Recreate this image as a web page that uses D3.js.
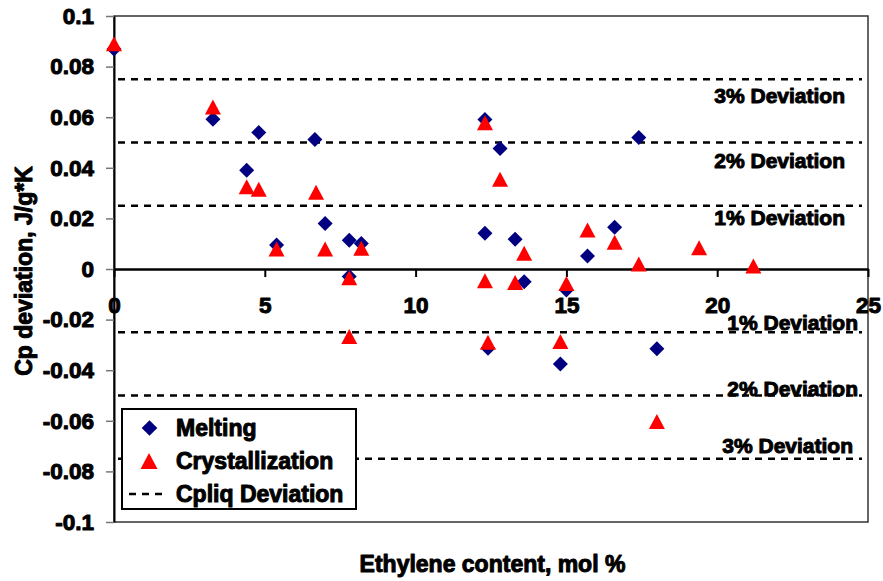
<!DOCTYPE html>
<html>
<head>
<meta charset="utf-8">
<script src="https://cdn.jsdelivr.net/npm/d3@7"></script>
<style>
  body { margin: 0; background: #fff; }
  svg { display: block; }
  text { font-family: "Liberation Sans", Arial, sans-serif; font-weight: 700; fill: #000;
         stroke: #000; stroke-width: 1px; stroke-linejoin: round; }
</style>
</head>
<body>
<svg id="chart" width="883" height="581"></svg>
<script>
// Ethylene content (mol %) vs. Cp deviation (J/g*K)
const melting = [
  [0.0, 0.0870], [3.28, 0.0592], [4.8, 0.0540], [4.4, 0.0390], [6.66, 0.0512],
  [7.0, 0.0180], [5.39, 0.0095], [7.8, 0.0114], [8.2, 0.0101], [7.8, -0.0030],
  [12.3, 0.0591], [12.8, 0.0476], [12.3, 0.0141], [13.3, 0.0118], [13.6, -0.0050],
  [15.0, -0.0083], [15.7, 0.0051], [16.6, 0.0165], [17.4, 0.0520], [18.0, -0.0315],
  [12.4, -0.0313], [14.8, -0.0375]
];
const crystallization = [
  [0.0, 0.0890], [3.28, 0.0640], [4.4, 0.0325], [4.8, 0.0315], [6.7, 0.0303],
  [7.0, 0.0079], [5.39, 0.0079], [8.2, 0.0082], [7.8, -0.0035], [7.8, -0.0267],
  [12.3, 0.0578], [12.8, 0.0355], [13.6, 0.0062], [12.3, -0.0046], [13.3, -0.0053],
  [15.0, -0.0057], [15.7, 0.0154], [16.6, 0.0106], [17.4, 0.0020], [19.4, 0.0084],
  [21.2, 0.0012], [12.4, -0.0290], [14.8, -0.0287], [18.0, -0.0603]
];
const deviationLevels = [0.075, 0.05, 0.025, -0.025, -0.05, -0.075];
const deviationLabels = ["3% Deviation", "2% Deviation", "1% Deviation",
                         "1% Deviation", "2% Deviation", "3% Deviation"];
const xTicks = [0, 5, 10, 15, 20, 25];
const yTicks = [0.1, 0.08, 0.06, 0.04, 0.02, 0, -0.02, -0.04, -0.06, -0.08, -0.1];
const yTickLabels = ["0.1", "0.08", "0.06", "0.04", "0.02", "0", "-0.02", "-0.04", "-0.06", "-0.08", "-0.1"];
const legendItems = ["Melting", "Crystallization", "Cpliq Deviation"];
const xTitle = "Ethylene content, mol %";
const yTitle = "Cp deviation, J/g*K";

const svg = d3.select("#chart");
const plot = { left: 114, right: 868, top: 16, bottom: 522 };

const x = d3.scaleLinear().domain([0, 25]).range([plot.left, plot.right]);
const y = d3.scaleLinear().domain([-0.1, 0.1]).range([plot.bottom, plot.top]);

// plot frame
svg.append("rect")
  .attr("x", plot.left).attr("y", plot.top)
  .attr("width", plot.right - plot.left).attr("height", plot.bottom - plot.top)
  .attr("fill", "#fff").attr("stroke", "#333").attr("stroke-width", 1.5);

// deviation bands
const dash = "7,6";
svg.append("g").selectAll("line").data(deviationLevels).join("line")
  .attr("x1", plot.left + 4).attr("x2", plot.right - 6)
  .attr("y1", d => y(d)).attr("y2", d => y(d))
  .attr("stroke", "#000").attr("stroke-width", 2.6)
  .attr("stroke-dasharray", dash);

// label placement: right edge and vertical offset from each band
const labelPlace = [
  { right: 845, dy: 16.5 }, { right: 845, dy: 17.8 }, { right: 845, dy: 11.8 },
  { right: 858, dy: -10.3 }, { right: 858, dy: -7.5 }, { right: 853, dy: -13.3 }
];
svg.append("g").selectAll("text").data(deviationLevels).join("text")
  .attr("x", (d, i) => labelPlace[i].right)
  .attr("y", (d, i) => y(d) + labelPlace[i].dy)
  .attr("dy", "0.36em")
  .attr("text-anchor", "end")
  .style("font-size", "21px")
  .text((d, i) => deviationLabels[i]);

// y axis
const yAxis = svg.append("g")
  .attr("transform", `translate(${plot.left},0)`)
  .call(d3.axisLeft(y).tickValues(yTicks)
    .tickFormat((d, i) => yTickLabels[i])
    .tickSize(8).tickSizeOuter(0).tickPadding(12));
yAxis.attr("font-family", null).attr("font-size", 22.5);
yAxis.select(".domain").attr("stroke", "#000").attr("stroke-width", 2);
yAxis.selectAll(".tick line").attr("stroke", "#777").attr("stroke-width", 1.5);
yAxis.selectAll(".tick text").style("font-size", "22.5px").attr("fill", "#000");

// x axis along zero
const xAxis = svg.append("g")
  .attr("transform", `translate(0,${y(0)})`)
  .call(d3.axisBottom(x).tickValues(xTicks).tickFormat(d3.format("d"))
    .tickSize(8).tickSizeOuter(0).tickPadding(20));
xAxis.attr("font-family", null).attr("font-size", 22.5);
xAxis.select(".domain").attr("stroke", "#000").attr("stroke-width", 2.6);
xAxis.selectAll(".tick line").attr("stroke", "#000").attr("stroke-width", 2);
xAxis.selectAll(".tick text").style("font-size", "22.5px").attr("fill", "#000");

// markers
const diamondPath = s => `M0,${-s}L${s},0L0,${s}L${-s},0Z`;
const trianglePath = (w, h) => `M0,${-h / 2}L${w / 2},${h / 2}L${-w / 2},${h / 2}Z`;

svg.append("g").selectAll("path").data(melting).join("path")
  .attr("d", diamondPath(7.5))
  .attr("transform", d => `translate(${x(d[0])},${y(d[1])})`)
  .attr("fill", "#000080");

svg.append("g").selectAll("path").data(crystallization).join("path")
  .attr("d", trianglePath(16, 15))
  .attr("transform", d => `translate(${x(d[0])},${y(d[1])})`)
  .attr("fill", "#ff0000");

// legend
const lg = svg.append("g");
lg.append("rect").attr("x", 122).attr("y", 409).attr("width", 234).attr("height", 100)
  .attr("fill", "#fff").attr("stroke", "#000").attr("stroke-width", 2);
const rowY = [428, 461, 494];
lg.append("path").attr("d", diamondPath(7.8))
  .attr("transform", `translate(149.5,${rowY[0]})`).attr("fill", "#000080");
lg.append("path").attr("d", trianglePath(17, 16))
  .attr("transform", `translate(149,${rowY[1]})`).attr("fill", "#ff0000");
lg.append("line").attr("x1", 129).attr("x2", 166).attr("y1", rowY[2]).attr("y2", rowY[2])
  .attr("stroke", "#000").attr("stroke-width", 2.6).attr("stroke-dasharray", dash);
lg.selectAll("text").data(legendItems).join("text")
  .attr("x", 176).attr("y", (d, i) => rowY[i] + 8)
  .style("font-size", "23px")
  .text(d => d);

// axis titles
svg.append("text")
  .attr("x", 492.5).attr("y", 572)
  .attr("text-anchor", "middle").style("font-size", "23px")
  .text(xTitle);
svg.append("text")
  .attr("transform", "translate(31.5,271) rotate(-90)")
  .attr("text-anchor", "middle").style("font-size", "23px")
  .text(yTitle);
</script>
</body>
</html>
